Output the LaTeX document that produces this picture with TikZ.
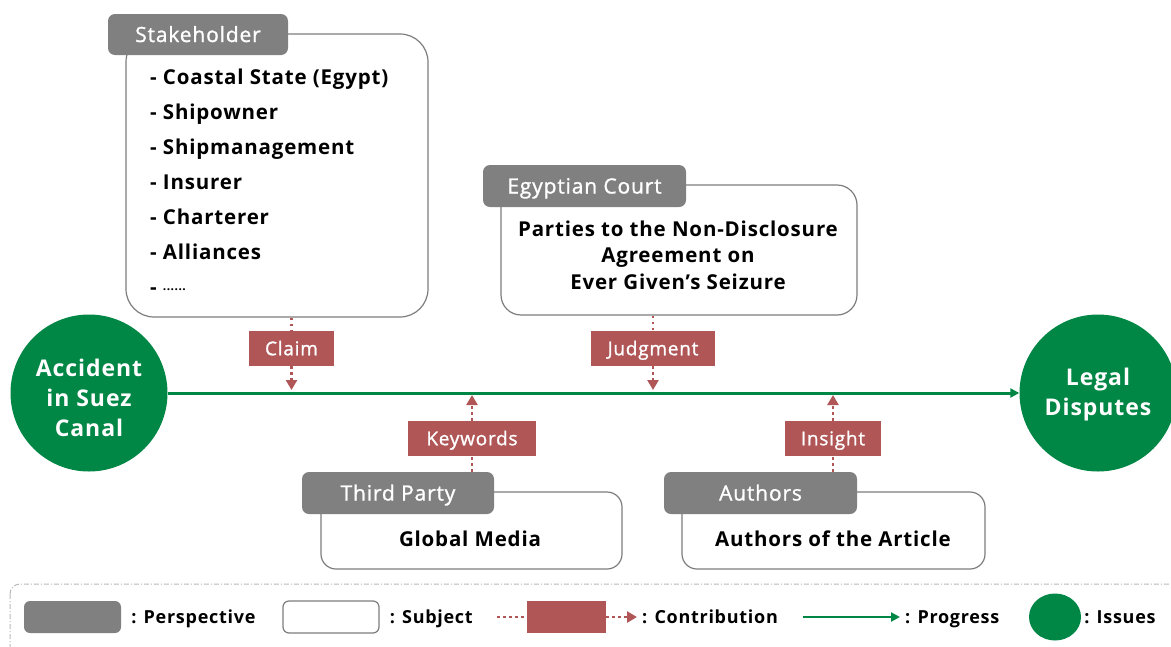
\documentclass[tikz,border=0pt]{standalone}
\usepackage{fontspec}
\setmainfont{Open Sans}[LetterSpace=4]
\newfontfamily\medfont{Open Sans}[LetterSpace=4,FakeBold=1.2]
\usetikzlibrary{positioning,arrows.meta,shapes.geometric}
\definecolor{persp}{RGB}{128,128,128}
\definecolor{contr}{RGB}{176,86,86}
\definecolor{issue}{RGB}{0,134,69}
\definecolor{edge}{RGB}{125,125,125}
\def\lineY{392}
\tikzset{
	subj/.style={draw=edge,line width=1.2pt,fill=white,rounded corners=#1,inner sep=0pt},
	subj/.default=15pt,
	tab/.style={fill=persp,rounded corners=7pt,text=white,inner sep=0pt,text height=15.5pt,text depth=0.5pt,font=\medfont\fontsize{21}{24}\selectfont},
	contrib/.style={fill=contr,text=white,inner sep=0pt,text height=13.5pt,text depth=0pt,font=\medfont\fontsize{19}{22}\selectfont},
	issues/.style={circle,fill=issue,inner sep=0pt},
	issuetext/.style={text=white,align=center,inner sep=0pt,font=\bfseries\fontsize{23}{30}\selectfont},
	bodytext/.style={font=\bfseries\fontsize{20.5}{26.5}\selectfont,inner sep=0pt},
	legtext/.style={font=\bfseries\fontsize{18}{20}\selectfont,inner sep=0pt,text height=13pt,text depth=0pt},
	dots/.style={contr,line width=2.8pt,dash pattern=on 2.5pt off 3.5pt},
	tipped/.style={dots,-{Triangle[width=11pt,length=10pt]}},
	progress/.style={issue,line width=3pt,-{Triangle[width=9pt,length=9pt]}}
}
\begin{document}
\begin{tikzpicture}[x=1pt,y=-1pt]
\useasboundingbox (0,0) rectangle (1171,646);

% subjects
\node[subj=28pt,minimum width=302pt,minimum height=283pt] (stakebox) at (277,175.5) {};
\node[subj=20pt,minimum width=356pt,minimum height=130pt] (courtbox) at (679,250) {};
\node[subj,minimum width=301pt,minimum height=77pt] (mediabox) at (471.5,530.5) {};
\node[subj,minimum width=303pt,minimum height=77pt] (authbox) at (833.5,530.5) {};

% perspectives
\node[tab,minimum width=180pt,minimum height=41pt] (stake) at (198,34.5) {Stakeholder};
\node[tab,minimum width=203pt,minimum height=42pt] (court) at (584.5,186) {Egyptian Court};
\node[tab,minimum width=192pt,minimum height=42pt] (third) at (398,493) {Third Party};
\node[tab,minimum width=193pt,minimum height=42pt] (authors) at (760.5,493) {Authors};

% texts of the subjects
\foreach \who [count=\i] in {Coastal State (Egypt),Shipowner,Shipmanagement,Insurer,Charterer,Alliances,\raisebox{4pt}{\fontsize{12}{12}\selectfont ......}}
	\node[bodytext,anchor=base west] (s\i) at (150,{84+35*(\i-1)}) {- \who};
\node[bodytext,align=center] (courttext) at (678,255) {Parties to the Non-Disclosure\\Agreement on\\Ever Given’s Seizure};
\node[bodytext] (media) at (470,538.5) {Global Media};
\node[bodytext] (article) at (833,538.5) {Authors of the Article};

% issues
\node[issues,minimum size=157pt] (accident) at (89,393) {};
\node[issuetext] (accidenttext) at ([yshift=-5pt]accident.center) {Accident\\in Suez\\Canal};
\node[issues,minimum size=157pt] (legal) at (1098,393) {};
\node[issuetext] (legaltext) at ([yshift=-1.5pt]legal.center) {Legal\\Disputes};
\draw[progress] (accident) -- (legal);

% contributions
\node[contrib,minimum width=85pt,minimum height=35pt] (claim) at (291.5,348.5) {Claim};
\node[contrib,minimum width=124pt,minimum height=35pt] (judgment) at (653,348.5) {Judgment};
\node[contrib,minimum width=128pt,minimum height=35pt] (keywords) at (472,438.5) {Keywords};
\node[contrib,minimum width=96pt,minimum height=35pt] (insight) at (833,438.5) {Insight};

\coordinate (claimpt) at (291.5,\lineY-2);
\coordinate (judgpt) at (653,\lineY-2);
\coordinate (keypt) at (472,\lineY+3);
\coordinate (inspt) at (833,\lineY+3);

\draw[dots] (claim.north |- stakebox.south) -- (claim.north);
\draw[tipped] (claim.south) -- (claimpt);
\draw[dots] (judgment.north |- courtbox.south) -- (judgment.north);
\draw[tipped] (judgment.south) -- (judgpt);
\draw[dots] (keywords.south |- third.north) -- (keywords.south);
\draw[tipped] (keywords.north) -- (keypt);
\draw[dots] (insight.south |- authors.north) -- (insight.south);
\draw[tipped] (insight.north) -- (inspt);

% legend
\draw[edge!55,line width=1pt,dash pattern=on 5pt off 2pt on 1pt off 2pt,rounded corners=10pt] (10,584) rectangle (1195,675);
\node[fill=persp,rounded corners=6pt,minimum width=97pt,minimum height=32pt] (kpersp) at (72.5,617) {};
\node[legtext,right=10pt of kpersp] (lpersp) {: Perspective};
\node[subj=6pt,minimum width=96pt,minimum height=32pt] (ksubj) at (331,617) {};
\node[legtext,right=10pt of ksubj] (lsubj) {: Subject};
\node[contrib,minimum width=79pt,minimum height=32pt] (kcontr) at (566.5,617) {};
\coordinate (kcl) at (497,617);
\coordinate (kcr) at (637,617);
\draw[dots] (kcl) -- (kcontr.west);
\draw[tipped] (kcontr.east) -- (kcr);
\node[legtext,anchor=west] (lcontr) at (642,617) {: Contribution};
\coordinate (kpl) at (803,617);
\coordinate (kpr) at (900,617);
\draw[progress,line width=2.5pt] (kpl) -- (kpr);
\node[legtext,anchor=west] (lprog) at (905,617) {: Progress};
\node[ellipse,fill=issue,minimum width=52pt,minimum height=47pt] (kissue) at (1055,617) {};
\node[legtext,right=3pt of kissue] (lissue) {: Issues};
\end{tikzpicture}
\end{document}
